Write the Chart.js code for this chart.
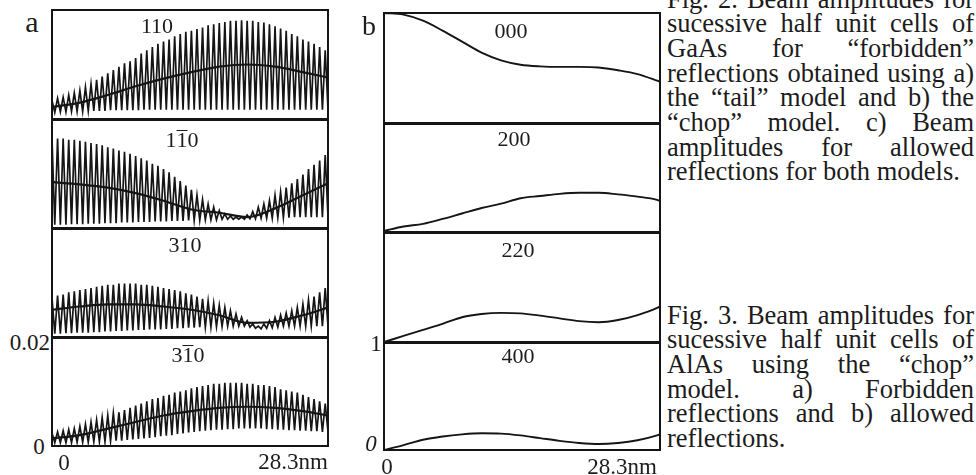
<!DOCTYPE html>
<html>
<head>
<meta charset="utf-8">
<script src="https://cdn.jsdelivr.net/npm/chart.js@4/dist/chart.umd.min.js"></script>
<style>
  body { margin: 0; width: 976px; height: 475px; background: #fff; position: relative; overflow: hidden;
         font-family: "Liberation Serif", "DejaVu Serif", serif; color: #1c1c1c; }
  .cell { position: absolute; }
  .frame { position: absolute; border: 2px solid #151515; box-sizing: border-box; }
  .rule { position: absolute; height: 3px; background: #151515; }
  .lbl { position: absolute; line-height: 1; white-space: nowrap; transform: translate(-50%, -50%); }
  .ov { display: inline-block; line-height: 0.72em; border-top: 1.5px solid currentColor; padding-top: 1px; }
  .cap { position: absolute; left: 667px; width: 307px; font-size: 26.5px; line-height: 24.7px; }
  .cap div { text-align: justify; text-align-last: justify; }
  .cap div.last { text-align-last: left; }
</style>
</head>
<body>
<div class="cap" style="top:-13.5px">
  <div>Fig. 2. Beam amplitudes for</div>
  <div>sucessive half unit cells of</div>
  <div>GaAs for “forbidden”</div>
  <div>reflections obtained using a)</div>
  <div>the “tail” model and b) the</div>
  <div>“chop” model. c) Beam</div>
  <div>amplitudes for allowed</div>
  <div class="last">reflections for both models.</div>
</div>
<div class="cap" style="top:302.5px">
  <div>Fig. 3. Beam amplitudes for</div>
  <div>sucessive half unit cells of</div>
  <div>AlAs using the “chop”</div>
  <div>model. a) Forbidden</div>
  <div>reflections and b) allowed</div>
  <div class="last">reflections.</div>
</div>
<script>
// panel a: forbidden reflections, amplitude in units of 1e-3 (axis top = 0.02)
// one value per period of the half-cell oscillation: hi = even cells, lo = odd cells
const a110Hi = [3.4,3.8,4.0,4.4,4.8,5.2,5.8,6.4,7.2,7.8, 8.4,9.0,9.6,10.2,10.6,11.2,12.0,12.6,13.2,13.8,
  14.2,14.6,15.2,15.6,16.0,16.2,16.5,16.8,17.2,17.4, 17.6,17.8,18.0,18.0,18.1,18.0,18.0,17.8,17.7,17.4,
  17.0,16.6,16.2,15.6,15.2,14.6,14.2,13.8,13.2,12.6];
const a110Lo = [1.2,1.3,1.3,1.4,1.4,1.4,1.5,1.5,1.5,1.5, 1.6,1.6,1.6,1.6,1.6,1.6,1.7,1.7,1.7,1.7,
  1.7,1.7,1.7,1.7,1.7,1.7,1.7,1.7,1.7,1.7, 1.7,1.7,1.7,1.7,1.7,1.7,1.7,1.7,1.7,1.7,
  1.7,1.7,1.7,1.7,1.7,1.7,1.7,1.7,1.7,1.7];
const a1b10Hi = [16.4,16.4,16.4,16.2,16.2,16.0,15.8,15.6,15.4,15.2, 14.8,14.6,14.2,14.0,13.6,13.2,12.8,12.4,11.8,11.4,
  10.8,10.2,9.4,8.6,7.8,7.0,6.0,5.2,4.4,3.8, 3.2,2.6,2.2,2.0,2.0,2.4,3.0,3.8,4.4,5.0,
  6.0,6.6,7.4,8.2,9.0,9.8,10.8,11.6,12.4,13.4];
const a1b10Lo = [0.6,0.6,0.6,0.7,0.7,0.7,0.8,0.8,0.8,0.9, 0.9,0.9,1.0,1.0,1.0,1.1,1.1,1.1,1.2,1.2,
  1.2,1.3,1.3,1.3,1.4,1.4,1.4,1.5,1.5,1.5, 1.6,1.6,1.6,1.6,1.6,1.7,1.7,1.8,1.8,1.8,
  1.9,1.9,1.9,2.0,2.0,2.0,2.0,2.0,2.0,2.0];
const a310Hi = [7.2,7.6,7.8,8.2,8.4,8.6,8.8,9.0,9.2,9.4, 9.6,9.6,9.8,9.8,9.8,9.8,9.6,9.6,9.4,9.2,
  9.0,8.8,8.6,8.4,8.0,7.8,7.4,7.0,6.6,6.2, 5.8,5.4,4.8,4.2,3.6,3.0,2.4,2.0,2.4,3.0,
  3.6,4.0,4.4,4.8,5.4,6.0,6.8,7.4,8.2,9.0];
const a310Lo = [0.6,0.6,0.7,0.7,0.8,0.8,0.8,0.9,0.9,1.0, 1.0,1.1,1.1,1.2,1.2,1.3,1.3,1.4,1.4,1.4,
  1.5,1.5,1.6,1.6,1.7,1.7,1.8,1.8,1.8,1.9, 1.9,2.0,2.0,2.0,2.0,1.8,1.6,1.5,1.6,1.7,
  1.8,2.0,2.0,2.0,2.0,2.0,2.0,2.0,2.0,2.0];
const a3b10Hi = [2.4,2.6,2.8,3.0,3.2,3.6,4.0,4.4,4.8,5.2, 5.6,6.0,6.2,6.6,7.0,7.4,7.8,8.2,8.6,8.8,
  9.2,9.4,9.8,10.0,10.2,10.6,10.8,11.0,11.2,11.4, 11.4,11.6,11.6,11.6,11.6,11.4,11.4,11.2,11.2,11.0,
  10.8,10.4,10.2,10.0,9.8,9.4,9.0,8.6,8.2,7.8];
const a3b10Lo = [0.6,0.6,0.6,0.6,0.7,0.7,0.7,0.8,0.8,0.8, 0.9,1.0,1.0,1.1,1.2,1.3,1.4,1.5,1.6,1.8,
  1.9,2.0,2.2,2.3,2.5,2.6,2.7,2.8,2.9,3.0, 3.0,3.1,3.1,3.2,3.2,3.2,3.2,3.2,3.1,3.1,
  3.0,3.0,2.9,2.9,2.8,2.8,2.7,2.7,2.6,2.6];

// dark band running through the middle of the oscillations
const midCells = [0, 10, 20, 30, 40, 50, 60, 70, 80, 90, 99];
const a110Mid = [2.2, 3.0, 4.4, 6.0, 7.4, 8.6, 9.6, 10.0, 9.6, 8.6, 7.6];
const a1b10Mid = [8.4, 8.0, 7.4, 6.4, 5.0, 3.4, 2.8, 2.0, 3.6, 6.0, 8.2];
const a310Mid = [5.0, 5.6, 6.0, 6.0, 5.6, 5.0, 4.0, 2.6, 2.8, 4.0, 5.4];
const a3b10Mid = [1.4, 2.0, 3.2, 4.4, 5.6, 6.4, 7.0, 7.2, 7.0, 6.4, 5.6];

// panel b: allowed reflections, depth in nm, amplitude 0..1
const bDepth = [0, 2, 4, 6, 8, 10, 12, 14, 16, 18, 20, 22, 24, 26, 28, 28.3];
const b000 = [1.0, 0.985, 0.93, 0.84, 0.74, 0.64, 0.57, 0.53, 0.515, 0.51, 0.51, 0.505, 0.48, 0.445, 0.385, 0.375];
const b200 = [0.01, 0.05, 0.075, 0.12, 0.17, 0.22, 0.26, 0.31, 0.33, 0.35, 0.36, 0.36, 0.345, 0.325, 0.295, 0.285];
const b220 = [0, 0.055, 0.11, 0.165, 0.225, 0.255, 0.265, 0.26, 0.24, 0.215, 0.19, 0.18, 0.2, 0.245, 0.31, 0.325];
const b400 = [0, 0.045, 0.095, 0.125, 0.145, 0.155, 0.152, 0.135, 0.11, 0.085, 0.065, 0.055, 0.065, 0.09, 0.135, 0.145];

const cells = Array.from({ length: 100 }, (_, i) => i); // successive half unit cells

const INK = '#151515';

function zigzag(hi, lo) {
  return cells.map(i => ({ x: i, y: (i % 2 ? lo : hi)[Math.floor(i / 2)] }));
}
function pairs(xs, ys) {
  return xs.map((x, k) => ({ x, y: ys[k] }));
}

function addBox(cls, left, top, width, height) {
  const d = document.createElement('div');
  d.className = cls;
  Object.assign(d.style, { left: left + 'px', top: top + 'px', width: width + 'px', height: height + 'px' });
  document.body.appendChild(d);
  return d;
}

function label(html, x, y, size, align) {
  const d = document.createElement('div');
  d.className = 'lbl';
  d.innerHTML = html;
  d.style.left = x + 'px';
  d.style.top = y + 'px';
  d.style.fontSize = size + 'px';
  if (align === 'right') d.style.transform = 'translate(-100%, -50%)';
  document.body.appendChild(d);
}

function plot(left, top, width, height, datasets, xMax, yMax) {
  const box = addBox('cell', left, top, width, height);
  const canvas = document.createElement('canvas');
  box.appendChild(canvas);
  new Chart(canvas, {
    type: 'line',
    data: { datasets },
    options: {
      responsive: true,
      maintainAspectRatio: false,
      animation: false,
      layout: { padding: 0 },
      plugins: { legend: { display: false }, tooltip: { enabled: false } },
      elements: { point: { radius: 0 } },
      scales: {
        x: { type: 'linear', display: false, min: 0, max: xMax },
        y: { display: false, min: 0, max: yMax }
      }
    }
  });
}

// panel a
const aLeft = 52, aWidth = 276, aRows = [10, 119, 228, 337, 446];
const aSeries = [[a110Hi, a110Lo, a110Mid], [a1b10Hi, a1b10Lo, a1b10Mid],
                 [a310Hi, a310Lo, a310Mid], [a3b10Hi, a3b10Lo, a3b10Mid]];
aSeries.forEach(([hi, lo, mid], r) => {
  plot(aLeft, aRows[r], aWidth, aRows[r + 1] - aRows[r], [
    { data: zigzag(hi, lo), borderColor: INK, borderWidth: 1.7 },
    { data: pairs(midCells, mid), borderColor: INK, borderWidth: 2.2, cubicInterpolationMode: 'monotone' }
  ], 99, 20);
});
addBox('frame', aLeft - 1, aRows[0] - 1, aWidth + 2, aRows[4] - aRows[0] + 2);
[1, 2, 3].forEach(r => addBox('rule', aLeft - 1, aRows[r] - 1.5, aWidth + 2, 3));

// panel b
const bLeft = 384, bWidth = 276, bRows = [13, 123, 232, 342, 450];
[b000, b200, b220, b400].forEach((vals, r) => {
  plot(bLeft, bRows[r], bWidth, bRows[r + 1] - bRows[r], [
    { data: pairs(bDepth, vals), borderColor: INK, borderWidth: 1.9, cubicInterpolationMode: 'monotone' }
  ], 28.3, 1);
});
addBox('frame', bLeft - 1, bRows[0] - 1, bWidth + 2, bRows[4] - bRows[0] + 2);
[1, 2, 3].forEach(r => addBox('rule', bLeft - 1, bRows[r] - 1.5, bWidth + 2, 3));

// text
label('a', 32, 22, 30);
label('b', 369, 26, 28);
label('110', 157, 26, 22);
label('1<span class="ov">1</span>0', 182, 140, 22);
label('310', 185, 245, 22);
label('3<span class="ov">1</span>0', 188, 355, 22);
label('000', 511, 31, 22);
label('200', 514, 139, 22);
label('220', 518, 250, 22);
label('400', 518, 356, 22);
label('0.02', 50, 342, 23, 'right');
label('0', 39, 446, 23);
label('0', 64, 462, 23);
label('28.3nm', 328, 461, 23, 'right');
label('1', 376, 343, 23);
label('<i>0</i>', 371, 443, 23);
label('0', 387, 466, 23);
label('28.3nm', 657, 466, 23, 'right');
</script>
</body>
</html>
